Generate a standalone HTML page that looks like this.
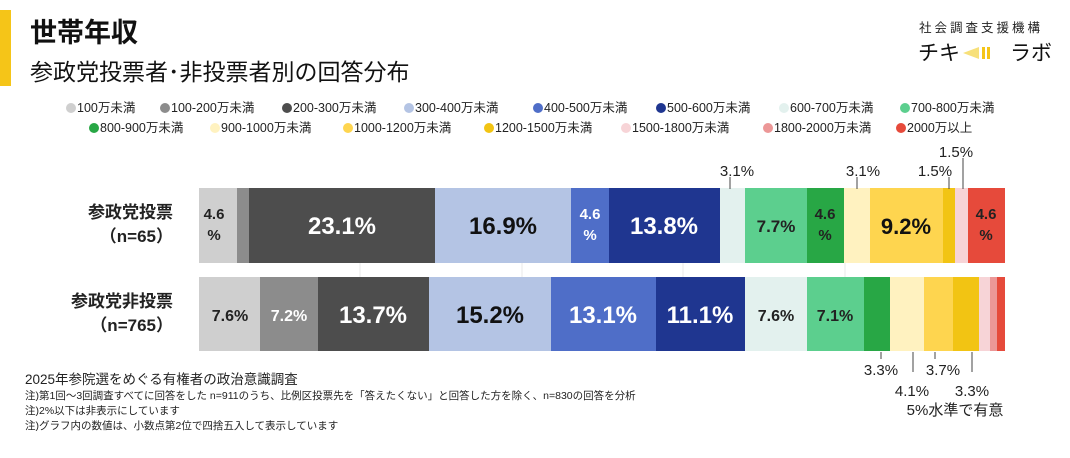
<!DOCTYPE html>
<html><head><meta charset="utf-8"><style>
body{margin:0;background:#fff;}
svg{display:block;font-family:"Liberation Sans","Noto Sans CJK JP",sans-serif;}
</style></head><body>
<svg width="1070" height="458" viewBox="0 0 1070 458">
<rect x="0" y="10" width="11" height="76" fill="#f5c518"/>
<text x="30" y="42" font-size="27" font-weight="bold" fill="#111">世帯年収</text>
<text x="30" y="80" font-size="23" fill="#111">参政党投票者･非投票者別の回答分布</text>
<text x="919" y="32" font-size="12.5" fill="#222" letter-spacing="3">社会調査支援機構</text>
<text x="918" y="60" font-size="21" fill="#111">チキ</text>
<path d="M963 53 L979 47 L979 59 Z" fill="#f7e07a"/>
<rect x="982" y="47" width="3" height="12" fill="#f5c518"/><rect x="987" y="47" width="3" height="12" fill="#f5c518"/>
<text x="1010" y="60" font-size="21" fill="#111">ラボ</text>
<g font-size="12.5" fill="#222">
<circle cx="71" cy="108" r="5" fill="#cfcfcf"/><text x="77" y="112">100万未満</text>
<circle cx="165" cy="108" r="5" fill="#8c8c8c"/><text x="171" y="112">100-200万未満</text>
<circle cx="287" cy="108" r="5" fill="#4d4d4d"/><text x="293" y="112">200-300万未満</text>
<circle cx="409" cy="108" r="5" fill="#b4c4e4"/><text x="415" y="112">300-400万未満</text>
<circle cx="538" cy="108" r="5" fill="#4f6ec8"/><text x="544" y="112">400-500万未満</text>
<circle cx="661" cy="108" r="5" fill="#1f3690"/><text x="667" y="112">500-600万未満</text>
<circle cx="784" cy="108" r="5" fill="#e3f1ee"/><text x="790" y="112">600-700万未満</text>
<circle cx="905" cy="108" r="5" fill="#5ccf8e"/><text x="911" y="112">700-800万未満</text>
<circle cx="94" cy="128" r="5" fill="#28a745"/><text x="100" y="132">800-900万未満</text>
<circle cx="215" cy="128" r="5" fill="#fff2c0"/><text x="221" y="132">900-1000万未満</text>
<circle cx="348" cy="128" r="5" fill="#fed54f"/><text x="354" y="132">1000-1200万未満</text>
<circle cx="489" cy="128" r="5" fill="#f2c413"/><text x="495" y="132">1200-1500万未満</text>
<circle cx="626" cy="128" r="5" fill="#f7d4d7"/><text x="632" y="132">1500-1800万未満</text>
<circle cx="768" cy="128" r="5" fill="#ec9797"/><text x="774" y="132">1800-2000万未満</text>
<circle cx="901" cy="128" r="5" fill="#e64a3b"/><text x="907" y="132">2000万以上</text>
</g>
<g stroke="#e8e8e8" stroke-width="1"><line x1="360" y1="263" x2="360" y2="277"/><line x1="522" y1="263" x2="522" y2="277"/><line x1="683" y1="263" x2="683" y2="277"/><line x1="845" y1="263" x2="845" y2="277"/></g>
<g>
<rect x="199" y="188" width="38" height="75" fill="#cfcfcf"/>
<rect x="237" y="188" width="12" height="75" fill="#8c8c8c"/>
<rect x="249" y="188" width="186" height="75" fill="#4d4d4d"/>
<rect x="435" y="188" width="136" height="75" fill="#b4c4e4"/>
<rect x="571" y="188" width="38" height="75" fill="#4f6ec8"/>
<rect x="609" y="188" width="111" height="75" fill="#1f3690"/>
<rect x="720" y="188" width="25" height="75" fill="#e3f1ee"/>
<rect x="745" y="188" width="62" height="75" fill="#5ccf8e"/>
<rect x="807" y="188" width="37" height="75" fill="#28a745"/>
<rect x="844" y="188" width="26" height="75" fill="#fff2c0"/>
<rect x="870" y="188" width="73" height="75" fill="#fed54f"/>
<rect x="943" y="188" width="12" height="75" fill="#f2c413"/>
<rect x="955" y="188" width="13" height="75" fill="#f7d4d7"/>
<rect x="968" y="188" width="37" height="75" fill="#e64a3b"/>
</g>
<g>
<rect x="199" y="277" width="61" height="74" fill="#cfcfcf"/>
<rect x="260" y="277" width="58" height="74" fill="#8c8c8c"/>
<rect x="318" y="277" width="111" height="74" fill="#4d4d4d"/>
<rect x="429" y="277" width="122" height="74" fill="#b4c4e4"/>
<rect x="551" y="277" width="105" height="74" fill="#4f6ec8"/>
<rect x="656" y="277" width="89" height="74" fill="#1f3690"/>
<rect x="745" y="277" width="62" height="74" fill="#e3f1ee"/>
<rect x="807" y="277" width="57" height="74" fill="#5ccf8e"/>
<rect x="864" y="277" width="26" height="74" fill="#28a745"/>
<rect x="890" y="277" width="34" height="74" fill="#fff2c0"/>
<rect x="924" y="277" width="29" height="74" fill="#fed54f"/>
<rect x="953" y="277" width="26" height="74" fill="#f2c413"/>
<rect x="979" y="277" width="11" height="74" fill="#f7d4d7"/>
<rect x="990" y="277" width="7" height="74" fill="#ec9797"/>
<rect x="997" y="277" width="8" height="74" fill="#e64a3b"/>
</g>
<g text-anchor="end" font-size="17" font-weight="bold" fill="#222">
<text x="173" y="218">参政党投票</text><text x="173" y="242">（n=65）</text>
<text x="173" y="307">参政党非投票</text><text x="173" y="331">（n=765）</text>
</g>
<g text-anchor="middle" font-weight="bold">
<text x="214" y="219" font-size="15" fill="#222">4.6</text><text x="214" y="240" font-size="15" fill="#222">%</text>
<text x="342" y="234" font-size="24" fill="#fff">23.1%</text>
<text x="503" y="234" font-size="24" fill="#111">16.9%</text>
<text x="590" y="219" font-size="15" fill="#fff">4.6</text><text x="590" y="240" font-size="15" fill="#fff">%</text>
<text x="664" y="234" font-size="24" fill="#fff">13.8%</text>
<text x="776" y="232" font-size="17" fill="#222">7.7%</text>
<text x="825" y="219" font-size="15" fill="#222">4.6</text><text x="825" y="240" font-size="15" fill="#222">%</text>
<text x="906" y="234" font-size="22" fill="#111">9.2%</text>
<text x="986" y="219" font-size="15" fill="#222">4.6</text><text x="986" y="240" font-size="15" fill="#222">%</text>
<text x="230" y="321" font-size="16" fill="#222">7.6%</text>
<text x="289" y="321" font-size="16" fill="#fff">7.2%</text>
<text x="373" y="323" font-size="24" fill="#fff">13.7%</text>
<text x="490" y="323" font-size="24" fill="#111">15.2%</text>
<text x="603" y="323" font-size="24" fill="#fff">13.1%</text>
<text x="700" y="323" font-size="24" fill="#fff">11.1%</text>
<text x="776" y="321" font-size="16" fill="#222">7.6%</text>
<text x="835" y="321" font-size="16" fill="#222">7.1%</text>
</g>
<g stroke="#444" stroke-width="1">
<line x1="730" y1="177" x2="730" y2="189"/>
<line x1="857" y1="177" x2="857" y2="189"/>
<line x1="949" y1="177" x2="949" y2="189"/>
<line x1="963" y1="158" x2="963" y2="189"/>
<line x1="881" y1="352" x2="881" y2="359"/>
<line x1="913" y1="352" x2="913" y2="372"/>
<line x1="935" y1="352" x2="935" y2="359"/>
<line x1="972" y1="352" x2="972" y2="372"/>
</g>
<g text-anchor="middle" font-size="15" fill="#222">
<text x="737" y="176">3.1%</text>
<text x="863" y="176">3.1%</text>
<text x="935" y="176">1.5%</text>
<text x="956" y="157">1.5%</text>
<text x="881" y="375">3.3%</text>
<text x="912" y="396">4.1%</text>
<text x="943" y="375">3.7%</text>
<text x="972" y="396">3.3%</text>
<text x="955" y="415">5%水準で有意</text>
</g>
<g fill="#222">
<text x="25" y="384" font-size="13.5">2025年参院選をめぐる有権者の政治意識調査</text>
<text x="25" y="399" font-size="10.5">注)第1回～3回調査すべてに回答をした n=911のうち、比例区投票先を「答えたくない」と回答した方を除く、n=830の回答を分析</text>
<text x="25" y="414" font-size="10.5">注)2%以下は非表示にしています</text>
<text x="25" y="429" font-size="10.5">注)グラフ内の数値は、小数点第2位で四捨五入して表示しています</text>
</g>
</svg>
</body></html>
